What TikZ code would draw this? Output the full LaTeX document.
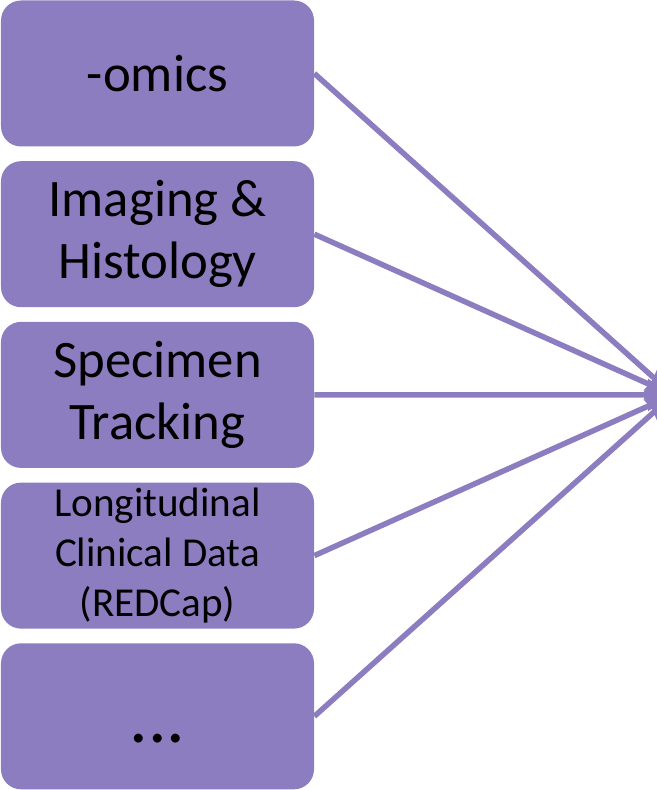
\documentclass[tikz,border=0pt]{standalone}
\usepackage{fontspec}
\setmainfont{Carlito}
\usetikzlibrary{positioning,arrows.meta}
\definecolor{srcpurple}{RGB}{140,125,192}
\tikzset{
  srcbox/.style={fill=srcpurple, rounded corners=0.4cm, minimum width=6.26cm,
                 minimum height=2.92cm, inner sep=0pt, align=center,
                 font=\fontsize{30}{35.5}\selectfont},
  srclink/.style={draw=srcpurple, line width=0.11cm, -{Triangle[length=0.5cm,width=0.62cm]}}
}
\begin{document}
\begin{tikzpicture}
                        \useasboundingbox (0,0) rectangle (13.12,15.80);
                        {

                        % Source boxes, top to bottom
                        \node [srcbox] (omics) at (3.15,14.33) {-omics};%
                        \node [srcbox, below=0.28cm of omics] (imaging) {Imaging \&\\Histology};%
                        \node [srcbox, below=0.28cm of imaging] (specimen) {Specimen\\Tracking};%
                        \node [srcbox, below=0.28cm of specimen, font=\fontsize{23.4}{28.3}\selectfont] (clinical) {Longitudinal\\Clinical Data\\(REDCap)};%
                        \node [srcbox, below=0.28cm of clinical, font=\fontsize{42}{42}\selectfont] (more) {\raisebox{-1.05cm}{...}};%

                        % Meeting point of the links (tip cut by the border)
                        \coordinate (hub) at (13.46,7.90);%

                        % Drawing links from each box to the hub
                        \draw [srclink] (omics.east) -- (hub);%
                        \draw [srclink] (imaging.east) -- (hub);%
                        \draw [srclink] (specimen.east) -- (hub);%
                        \draw [srclink] (clinical.east) -- (hub);%
                        \draw [srclink] (more.east) -- (hub);%
                        }
                    \end{tikzpicture}
\end{document}
